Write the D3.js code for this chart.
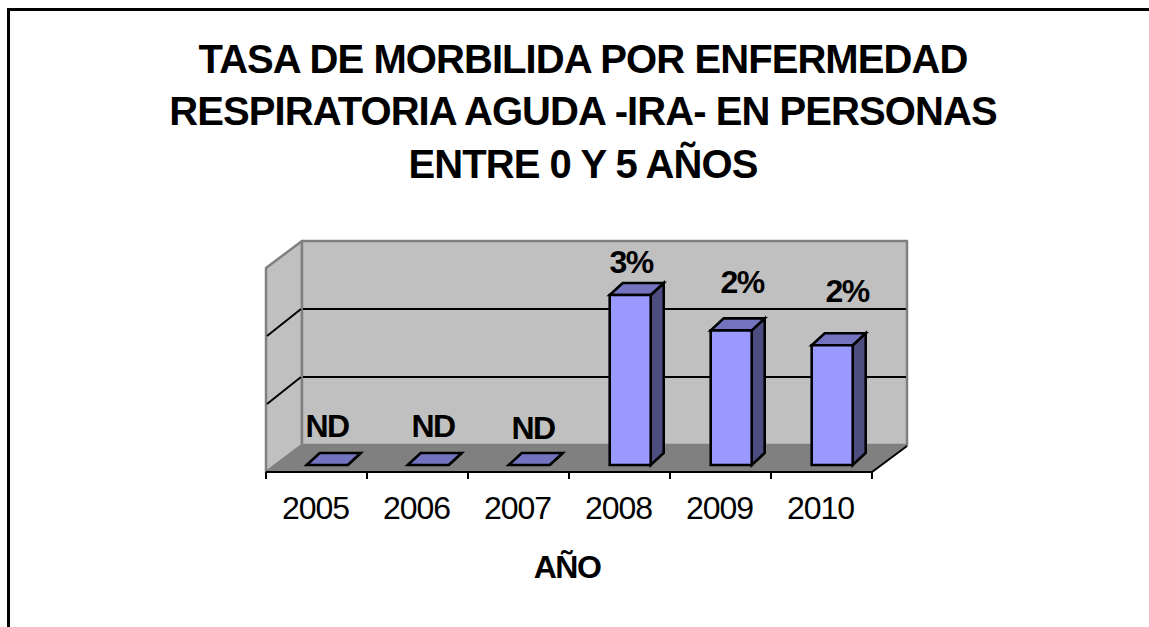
<!DOCTYPE html>
<html><head><meta charset="utf-8">
<script src="https://cdn.jsdelivr.net/npm/d3@7"></script>
<style>html,body{margin:0;padding:0;background:#fff;overflow:hidden}svg{display:block}text{font-family:"Liberation Sans",Arial,sans-serif;fill:#000}</style>
</head><body><svg id="c" width="1149" height="627"></svg>
<script>
const titleLines = ["TASA DE MORBILIDA POR ENFERMEDAD","RESPIRATORIA AGUDA -IRA- EN PERSONAS","ENTRE 0 Y 5 AÑOS"];
const categories = ["2005","2006","2007","2008","2009","2010"];
const values = [0,0,0,2.5,1.98,1.76];
const labels = ["ND","ND","ND","3%","2%","2%"];
const axisTitle = "AÑO";
const yTicks = [0,1,2,3];

const svg = d3.select("#c");
svg.append("path").attr("d","M8.5 627V9.5H1149").attr("fill","none").attr("stroke","#000").attr("stroke-width",3);

const titleBase = [73,125,178];
svg.selectAll(".t").data(titleLines).join("text").attr("class","t")
  .attr("x",583).attr("y",(d,i)=>titleBase[i]).attr("text-anchor","middle")
  .attr("font-size",40).attr("font-weight","bold").attr("letter-spacing",-0.93).text(d=>d);

const x = d3.scaleBand().domain(categories).range([266,872]);
const yBack = d3.scaleLinear().domain([0,3]).range([445,241]);
const depthX = 36, depthY = 27;      // wall depth
const barDX = 13, barDY = 12;        // bar depth
const barW = 41, barInset = 40.7, barBase = 465;
const h = v => yBack(0)-yBack(v);

const floorY = 472, xL = x.range()[0], xR = x.range()[1];
const poly = (pts,fill,stroke,sw)=>svg.append("path").attr("d","M"+pts.map(p=>p.join(",")).join("L")+"Z")
  .attr("fill",fill).attr("stroke",stroke).attr("stroke-width",sw).attr("stroke-linejoin","round");

// walls & floor
poly([[xL,floorY-h(3)],[xL+depthX,yBack(3)],[xL+depthX,yBack(0)],[xL,floorY]],"#c0c0c0","#808080",2.5);
poly([[xL+depthX,yBack(3)],[xR+depthX-1,yBack(3)],[xR+depthX-1,yBack(0)],[xL+depthX,yBack(0)]],"#c0c0c0","#808080",2.5);
poly([[xL,floorY],[xL+depthX,yBack(0)],[xR+depthX-1,yBack(0)],[xR,floorY]],"#808080","#808080",1);

// gridlines
svg.selectAll(".g").data(yTicks.slice(1,3)).join("path").attr("class","g")
  .attr("d",v=>`M${xL+1},${floorY-h(v)}L${xL+depthX-1},${yBack(v)}M${xL+depthX+1},${yBack(v)}H${xR+depthX-2}`)
  .attr("fill","none").attr("stroke","#000").attr("stroke-width",2);

// floor front edge and ticks
svg.append("path").attr("d",`M${xL},${floorY}H${xR}L${xR+depthX-1},${yBack(0)+1}`).attr("fill","none").attr("stroke","#000").attr("stroke-width",2);
const tickXs = categories.map(c=>x(c)).concat([xR]);
svg.selectAll(".tk").data(tickXs).join("line").attr("class","tk")
  .attr("x1",d=>d).attr("x2",d=>d).attr("y1",floorY).attr("y2",floorY+7)
  .attr("stroke","#000").attr("stroke-width",2);

// bars
const bars = svg.selectAll(".b").data(categories.map((c,i)=>({c,v:values[i]}))).join("g").attr("class","b");
const bx = d => x(d.c)+barInset;
const pg = (sel,f,fill)=>sel.append("path").attr("d",d=>"M"+f(d).map(p=>p.join(",")).join("L")+"Z")
  .attr("fill",fill).attr("stroke","#000").attr("stroke-width",2.6).attr("stroke-linejoin","miter");
pg(bars,d=>[[bx(d)+barW,barBase-h(d.v)],[bx(d)+barW+barDX,barBase-h(d.v)-barDY],[bx(d)+barW+barDX,barBase-barDY],[bx(d)+barW,barBase]],"#4d4d80");
pg(bars,d=>[[bx(d),barBase-h(d.v)],[bx(d)+barDX,barBase-h(d.v)-barDY],[bx(d)+barW+barDX,barBase-h(d.v)-barDY],[bx(d)+barW,barBase-h(d.v)]],"#7373bf");
pg(bars.filter(d=>d.v>0),d=>[[bx(d),barBase-h(d.v)],[bx(d)+barW,barBase-h(d.v)],[bx(d)+barW,barBase],[bx(d),barBase]],"#9999ff");

// value labels
const labelX = [327,433,533,631,742,847];
const labelY = [437,437,439,273,293,302];
svg.selectAll(".l").data(labels).join("text").attr("class","l")
  .attr("x",(d,i)=>labelX[i]).attr("y",(d,i)=>labelY[i]).attr("text-anchor","middle")
  .attr("font-size",32).attr("font-weight","bold").attr("letter-spacing",-1.5).text(d=>d);

// category axis labels
const ax = svg.append("g").attr("transform",`translate(0,${floorY})`)
  .call(d3.axisBottom(x).tickSize(0).tickPadding(0));
ax.select(".domain").remove();
ax.selectAll("text").attr("dy",null).attr("x",-1).attr("y",47).attr("font-size",32).attr("font-family",null).attr("letter-spacing",-1).attr("fill","#000");

svg.append("text").attr("x",567).attr("y",578).attr("text-anchor","middle")
  .attr("font-size",32).attr("font-weight","bold").attr("letter-spacing",-1.5).text(axisTitle);
</script></body></html>
